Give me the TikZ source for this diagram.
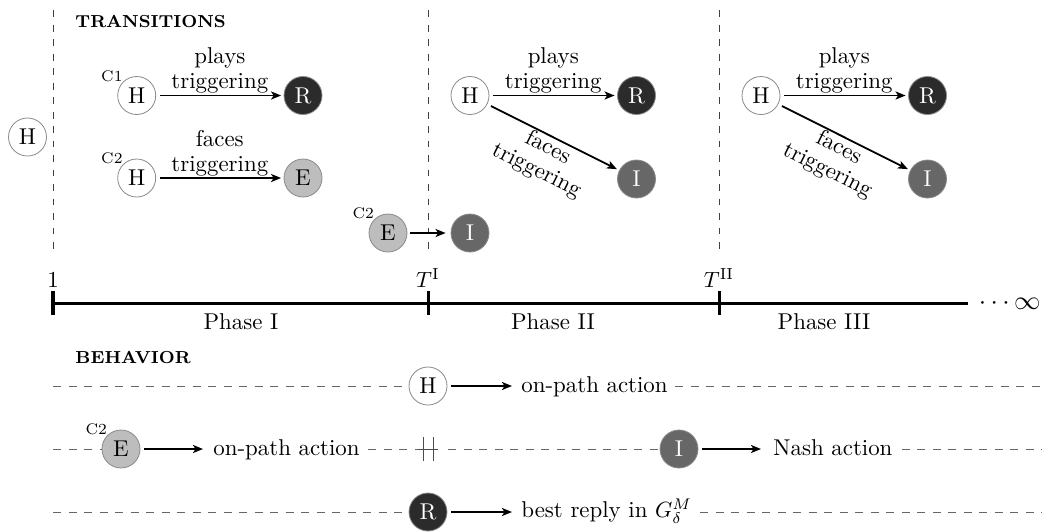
\documentclass[tikz,border=0pt]{standalone}
\usepackage{fontspec}
\usetikzlibrary{arrows.meta,calc}
\definecolor{rcol}{HTML}{2B2B2B}
\definecolor{icol}{HTML}{676767}
\definecolor{ecol}{HTML}{BDBDBD}
\definecolor{bcol}{HTML}{8A8A8A}
\begin{document}
% 1 px of the reference = 0.4545pt
\begin{tikzpicture}[x=0.4545pt,y=-0.4545pt,
  every node/.style={font=\fontsize{10.4}{11.4}\selectfont},
  st/.style={circle, draw=bcol, line width=0.364pt, minimum size=17.27pt, inner sep=0pt},
  hnode/.style={st, fill=white},
  rnode/.style={st, fill=rcol, text=white},
  enode/.style={st, fill=ecol},
  inode/.style={st, fill=icol, text=white},
  clabel/.style={font=\fontsize{7}{7}\selectfont, inner sep=0pt, anchor=south east},
  arr/.style={line width=0.818pt, -{Stealth[length=4.545pt,width=3.636pt,inset=1.136pt]}, shorten <=1.818pt, shorten >=1.136pt},
  rarr/.style={arr, shorten >=4.09pt},
  vdash/.style={draw=black!75, line width=0.364pt, dash pattern=on 3.18pt off 3.41pt},
  rowdash/.style={draw=black!60, line width=0.409pt, dash pattern=on 3.636pt off 3.41pt},
  head/.style={anchor=base west, inner sep=0pt, font=\fontsize{7.9}{8}\selectfont\bfseries},
  rowtext/.style={anchor=base west, inner sep=0pt},
  axis/.style={line width=1.364pt},
  tlabel/.style={anchor=base},
  lbl/.style={align=center, inner sep=0.4545pt},
  bar/.style={draw=black!70, line width=0.409pt}
]
\useasboundingbox (0,0) rectangle (1042,531);

% ---------- transitions ----------
\node[head] (htrans) at (75,27) {TRANSITIONS};

\coordinate (v1t) at (53,10);  \coordinate (v1b) at (53,252);
\coordinate (v2t) at (428,10); \coordinate (v2b) at (428,252);
\coordinate (v3t) at (719,10); \coordinate (v3b) at (719,252);
\draw[vdash] (v1t) -- (v1b);
\draw[vdash] (v2t) -- (v2b);
\draw[vdash] (v3t) -- (v3b);

\node[hnode] (h0) at (27.5,137) {H};

\node[hnode, label={[clabel]135:C1}] (h1) at (136.7,95.5) {H};
\node[rnode] (r1) at (303,95.5) {R};
\node[hnode, label={[clabel]135:C2}] (h2) at (136.7,178) {H};
\node[enode] (e1) at (303,178) {E};
\node[enode, label={[clabel]135:C2}] (e2) at (388,233) {E};
\node[inode] (i1) at (470,233) {I};

\draw[arr] (h1) -- node[above, lbl] (lp1) {plays\\triggering} (r1);
\draw[arr] (h2) -- node[above, lbl] (lf1) {faces\\triggering} (e1);
\draw[arr, shorten >=2.27pt, shorten <=1.364pt] (e2) -- (i1);

\node[hnode] (h3) at (470,95.5) {H};
\node[rnode] (r2) at (636.5,95.5) {R};
\node[inode] (i2) at (636.5,179) {I};
\draw[arr] (h3) -- node[above, lbl] (lp2) {plays\\triggering} (r2);
\draw[arr] (h3) -- node[midway, sloped, below, lbl] (lf2) {faces\\triggering} (i2);

\node[hnode] (h4) at (761,95.5) {H};
\node[rnode] (r3) at (927.5,95.5) {R};
\node[inode] (i3) at (927.5,179) {I};
\draw[arr] (h4) -- node[above, lbl] (lp3) {plays\\triggering} (r3);
\draw[arr] (h4) -- node[midway, sloped, below, lbl] (lf3) {faces\\triggering} (i3);

% ---------- timeline ----------
\coordinate (a0) at (53,303);
\coordinate (a1) at (428,303);
\coordinate (a2) at (719,303);
\coordinate (aend) at (968,303);
\draw[axis] (a0) -- (aend);
\draw[axis] ([yshift=5.455pt]a0) -- ([yshift=-5.455pt]a0);
\draw[axis] ([yshift=5.455pt]a1) -- ([yshift=-5.455pt]a1);
\draw[axis] ([yshift=5.455pt]a2) -- ([yshift=-5.455pt]a2);
\node[tlabel] (l1) at (53,287) {1};
\node[tlabel] (lT1) at (428,287) {$T^{\mathrm{I}}$};
\node[tlabel] (lT2) at (719,287) {$T^{\mathrm{II}}$};
\node[tlabel] (p1) at (241,329) {Phase I};
\node[tlabel] (p2) at (553,329) {Phase II};
\node[tlabel] (p3) at (824,329) {Phase III};
\node[anchor=base east, inner sep=0pt, font=\fontsize{12}{13}\selectfont] (inf) at (1041,309.5) {$\cdots\infty$};

% ---------- behavior ----------
\node[head] (hbeh) at (75,363) {BEHAVIOR};

% row 1
\coordinate (s1) at (53,386);
\coordinate (f1) at (1042,386);
\node[hnode] (h5) at (428,386) {H};
\node[rowtext] (t1) at (521,392) {on-path action};
\draw[rarr] (h5) -- (h5 -| t1.west);
\draw[rowdash] (s1) -- (h5);
\draw[rowdash, shorten <=3.18pt] (t1.east |- s1) -- (f1);

% row 2
\coordinate (s2) at (53,449);
\coordinate (f2) at (1042,449);
\coordinate (b1) at (423,449);
\coordinate (b2) at (433,449);
\coordinate (b0) at (419,449);
\coordinate (b3) at (438,449);
\coordinate (b4) at (448,449);
\node[enode, label={[clabel]135:C2}] (e3) at (121,449) {E};
\node[rowtext] (t2) at (213,455) {on-path action};
\node[inode] (i4) at (679,449) {I};
\node[rowtext] (t3) at (773,455) {Nash action};
\draw[rowdash] (s2) -- (e3);
\draw[rarr, shorten >=4.545pt] (e3) -- (e3 -| t2.west);
\draw[rowdash, shorten <=3.636pt] (t2.east |- s2) -- (b0);
\draw[bar] (b0) -- (b3);
\draw[bar] ([yshift=5.455pt]b1) -- ([yshift=-5.455pt]b1);
\draw[bar] ([yshift=5.455pt]b2) -- ([yshift=-5.455pt]b2);
\draw[rowdash] (b4) -- (i4);
\draw[rarr, shorten >=5.455pt] (i4) -- (i4 -| t3.west);
\draw[rowdash, shorten <=4.09pt] (t3.east |- s2) -- (f2);

% row 3
\coordinate (s3) at (53,512);
\coordinate (f3) at (1042,512);
\node[rnode] (r4) at (428,512) {R};
\node[rowtext] (t4) at (521,517.5) {best reply in $G_{\delta}^{M}$};
\draw[rowdash] (s3) -- (r4);
\draw[rarr] (r4) -- (r4 -| t4.west);
\draw[rowdash, shorten <=3.636pt] (t4.east |- s3) -- (f3);
\end{tikzpicture}
\end{document}
